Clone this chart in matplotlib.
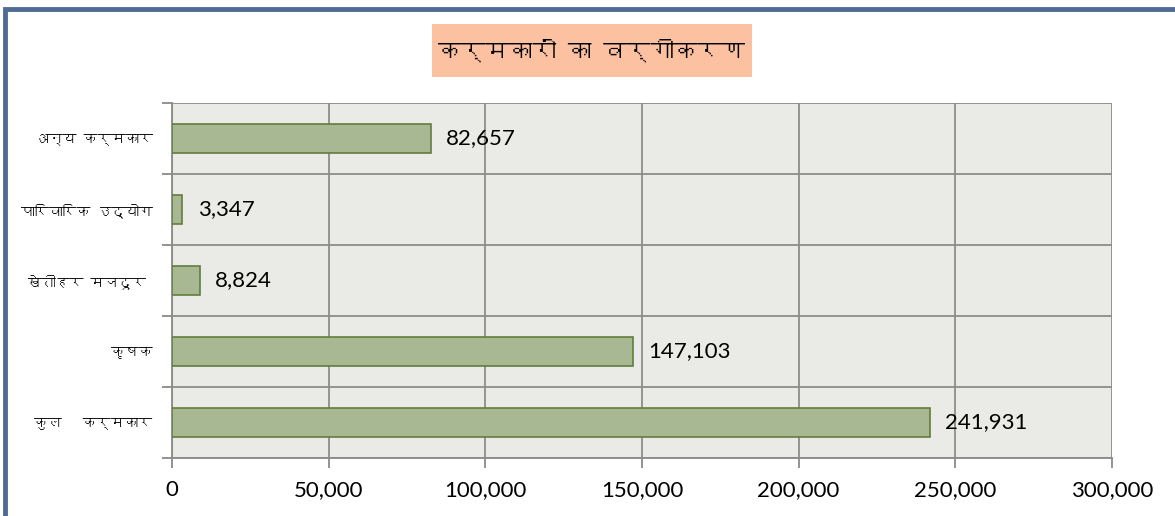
import matplotlib
matplotlib.use("Agg")
import matplotlib.pyplot as plt
from matplotlib import font_manager
from matplotlib.ft2font import FT2Font
from matplotlib.patches import Rectangle
from matplotlib.ticker import FuncFormatter

categories = ["कुल   कर्मकार", "कृषक", "खेतीहर मजदूर ", "पारिवारिक उद्योग", "अन्य कर्मकार"]
values = [241931, 147103, 8824, 3347, 82657]
value_labels = ["241,931", "147,103", "8,824", "3,347", "82,657"]
x_ticks = [0, 50000, 100000, 150000, 200000, 250000, 300000]
title = "कर्मकारों का वर्गीकरण"

# find a font with Devanagari coverage
deva_font = None
for f in font_manager.fontManager.ttflist:
    try:
        cm = FT2Font(f.fname).get_charmap()
        if 0x0915 in cm and 0x093E in cm:
            deva_font = f.name
            break
    except Exception:
        pass
fam = [deva_font, "DejaVu Sans"] if deva_font else ["DejaVu Sans"]
num_font = ["Lato", "DejaVu Sans"]

W, H = 1175, 516
fig = plt.figure(figsize=(W / 100, H / 100), dpi=100)
fig.patch.set_facecolor("white")

# frame (top and left visible)
border = "#4f6d94"
fig.add_artist(Rectangle((5 / W, -0.05), 1.2, 1 - 8.5 / H + 0.05, transform=fig.transFigure,
                         fill=False, edgecolor=border, linewidth=3.5))

ax = fig.add_axes([172 / W, 1 - 458 / H, (1112 - 172) / W, (458 - 103) / H])
ax.set_facecolor("#eaebe6")
y = list(range(len(categories)))
ax.barh(y, values, height=0.4, color="#a7b892", edgecolor="#627d3f", linewidth=1.2, zorder=3)

ax.set_xlim(0, 300000)
ax.set_ylim(-0.5, len(categories) - 0.5)
ax.set_xticks(x_ticks)
ax.xaxis.set_major_formatter(FuncFormatter(lambda v, p: f"{int(v):,}"))
for lbl in ax.get_xticklabels():
    lbl.set_fontfamily(num_font)
    lbl.set_fontsize(16)
ax.tick_params(axis="x", length=7, width=1.3, color="#8a8a8a", pad=9)

ax.set_yticks(y)
ax.set_yticklabels(categories, fontfamily=fam, fontsize=10)
ax.tick_params(axis="y", which="major", length=0, pad=14)
ax.set_yticks([i - 0.5 for i in range(len(categories) + 1)], minor=True)
ax.tick_params(axis="y", which="minor", length=7, width=1.3, color="#8a8a8a")

ax.grid(axis="x", which="major", color="#8c8c8c", linewidth=1.3, zorder=0)
ax.grid(axis="y", which="minor", color="#8c8c8c", linewidth=1.3, zorder=0)
ax.set_axisbelow(True)
for s in ["top", "right"]:
    ax.spines[s].set_visible(False)
for s in ["left", "bottom"]:
    ax.spines[s].set_color("#8a8a8a")
    ax.spines[s].set_linewidth(1.3)

for yi, v, t in zip(y, values, value_labels):
    ax.text(v + 4800, yi, t, va="center", ha="left", fontsize=16, fontfamily=num_font, zorder=4)

# title box
fig.add_artist(Rectangle((432 / W, 1 - 77 / H), (752 - 432) / W, (77 - 24) / H,
                         transform=fig.transFigure, facecolor="#fbc1a1", edgecolor="none"))
fig.text(592 / W, 1 - 50 / H, title, ha="center", va="center", fontsize=17, fontweight="bold",
         fontfamily=fam)

fig.savefig("out.png", dpi=100)
